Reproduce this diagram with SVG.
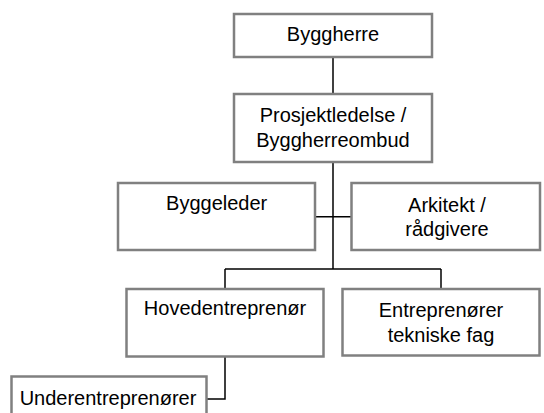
<svg xmlns="http://www.w3.org/2000/svg" width="544" height="413" viewBox="0 0 544 413">
<style>
.box{fill:#fff;stroke:#808080;stroke-width:2.5}
.t{font-family:"Liberation Sans",Arial,sans-serif;font-size:20px;fill:#000;text-anchor:middle}
.c{fill:none;stroke:#000;stroke-width:1.5}
</style>
<rect width="544" height="413" fill="#fff"/>
<g id="connectors">
<path class="c" d="M333 57V94"/>
<path class="c" d="M333 162V269"/>
<path class="c" d="M315 216.7H351.5"/>
<path class="c" d="M225 269H441"/>
<path class="c" d="M225 269V289"/>
<path class="c" d="M441 269V289"/>
<path class="c" d="M225 356.5V399H206.5"/>
</g>
<g id="byggherre">
<rect class="box" x="234" y="14" width="198" height="43"/>
<text class="t" x="333" y="41">Byggherre</text>
</g>
<g id="prosjektledelse">
<rect class="box" x="234" y="94" width="198" height="68"/>
<text class="t" x="333" y="121.7">Prosjektledelse /</text>
<text class="t" x="333" y="146.7">Byggherreombud</text>
</g>
<g id="byggeleder">
<rect class="box" x="118" y="183" width="197" height="67"/>
<text class="t" x="216.7" y="209.5">Byggeleder</text>
</g>
<g id="arkitekt">
<rect class="box" x="351.5" y="183" width="188.5" height="67"/>
<text class="t" x="447" y="211.5">Arkitekt /</text>
<text class="t" x="447" y="236">rådgivere</text>
</g>
<g id="hovedentreprenor">
<rect class="box" x="126.5" y="289" width="197" height="67.5"/>
<text class="t" x="225" y="315">Hovedentreprenør</text>
</g>
<g id="entreprenorer">
<rect class="box" x="342.5" y="289" width="197" height="66.5"/>
<text class="t" x="441" y="316.5">Entreprenører</text>
<text class="t" x="441" y="341.5">tekniske fag</text>
</g>
<g id="underentreprenorer">
<rect class="box" x="11.5" y="376.5" width="195" height="50"/>
<text class="t" x="108" y="405">Underentreprenører</text>
</g>
</svg>
